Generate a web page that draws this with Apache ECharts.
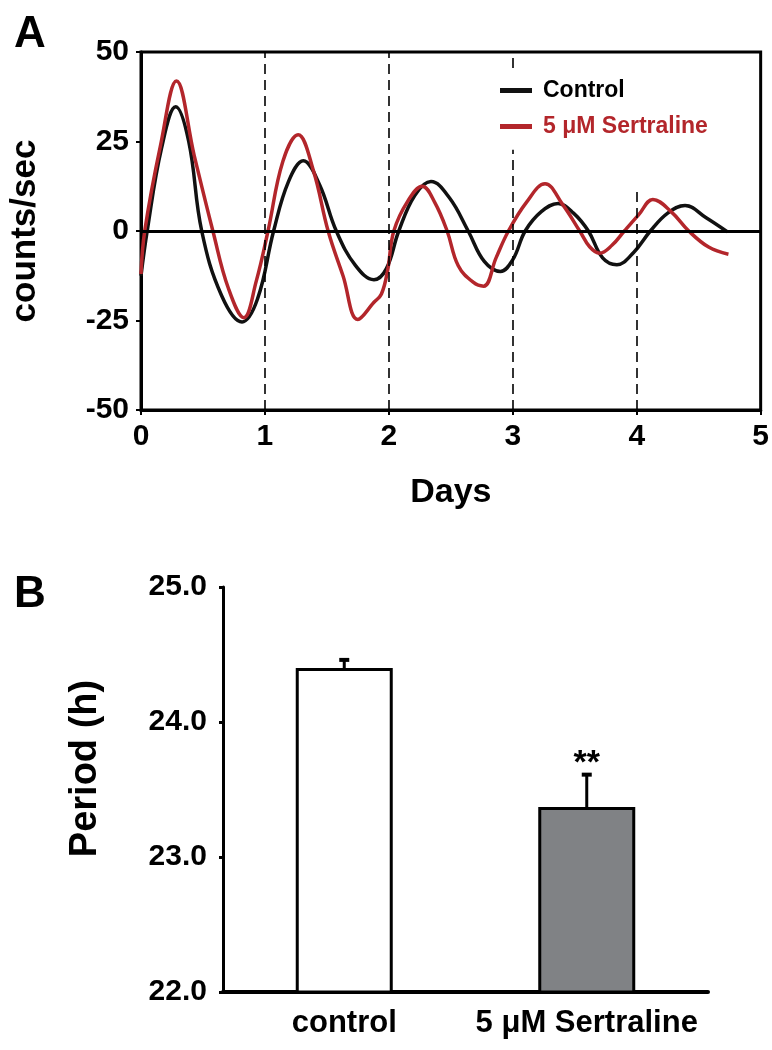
<!DOCTYPE html>
<html>
<head>
<meta charset="utf-8">
<script src="https://cdn.jsdelivr.net/npm/echarts@6/dist/echarts.min.js"></script>
<style>
html,body{margin:0;padding:0;background:#fff;}
#chart{width:772px;height:1050px;}
</style>
</head>
<body>
<div id="chart"></div>
<script>
// ---------- Panel A data ----------
const controlDays = [0.00,0.05,0.165,0.28,0.385,0.49,0.65,0.815,0.94,1.07,1.19,1.31,1.44,1.576,1.73,1.88,1.98,2.08,2.21,2.34,2.49,2.64,2.77,2.90,3.00,3.10,3.23,3.365,3.49,3.61,3.725,3.84,3.975,4.11,4.25,4.39,4.56,4.73];
const controlValues = [-12.5,0,23,34.7,25,0,-18,-25.4,-19,0,13.8,19.6,13,0,-9.6,-13.6,-10.5,0,10,13.8,9.2,0,-8.5,-11.3,-8,0,5.4,7.7,5,0,-7.5,-9.4,-6,0,5,7.1,3.7,-0.2];
const sertDays = [0.00,0.03,0.158,0.286,0.43,0.58,0.705,0.83,0.93,1.025,1.145,1.268,1.39,1.51,1.63,1.75,1.88,1.94,1.99,2.04,2.155,2.27,2.37,2.47,2.56,2.68,2.765,2.865,2.965,3.11,3.26,3.40,3.54,3.62,3.70,3.80,3.90,4.015,4.13,4.275,4.42,4.58,4.74];
const sertValues = [-12,0,24,41.9,21,0,-16,-24.2,-14,0,19.5,26.9,17,0,-12.5,-24.7,-19.9,-17.6,-11,0,8.5,12.5,8,0,-9.7,-14.3,-15.4,-7.5,0,8,13.2,7.5,0,-4.4,-6.2,-4,0,4.5,8.8,5.5,0,-4.5,-6.5];
const seriesNames = ['Control','5 \u03bcM Sertraline'];
const xTicksA = [0,1,2,3,4,5];
const yTicksA = [-50,-25,0,25,50];
const dayLines = [1,2,3,4];
const dayLineTop = [50,50,22.7,11.5];

// ---------- Panel B data ----------
const categories = ['control','5 \u03bcM Sertraline'];
const periodMean = [24.40,23.37];
const periodSEM = [0.06,0.24];
const sigMarks = ['','**'];
const yTicksB = [22.0,23.0,24.0,25.0];

const RED = '#b3262b';
const FONT = '"Liberation Sans", Arial, Helvetica, sans-serif';

const chart = echarts.init(document.getElementById('chart'), null, {renderer:'canvas'});

const guideLines = [];
dayLines.forEach((d,i)=>{
  guideLines.push([{coord:[d,yTicksA[0]]},{coord:[d,dayLineTop[i]]}]);
});
guideLines.push([{coord:[3,45.5]},{coord:[3,50]}]);

const option = {
  animation:false,
  backgroundColor:'#fff',
  title:[
    {text:'A', left:9, top:8, textStyle:{fontFamily:FONT,fontWeight:'bold',fontSize:44,color:'#000'}},
    {text:'B', left:9, top:568, textStyle:{fontFamily:FONT,fontWeight:'bold',fontSize:44,color:'#000'}}
  ],
  legend:{
    data:[{name:seriesNames[0],textStyle:{color:'#000'}},{name:seriesNames[1],textStyle:{color:RED}}],
    orient:'vertical', left:495, top:74, itemWidth:32, itemHeight:5, itemGap:13,
    icon:'rect',
    textStyle:{fontFamily:FONT,fontWeight:'bold',fontSize:23,padding:[0,0,0,6]}
  },
  grid:[
    {left:135, top:52, width:627, height:358, show:true, borderColor:'#000', borderWidth:3, backgroundColor:'transparent'},
    {left:223, top:587, width:485, height:405}
  ],
  xAxis:[
    {gridIndex:0, type:'value', min:xTicksA[0], max:xTicksA[xTicksA.length-1], interval:1,
     name:'Days', nameLocation:'middle', nameGap:66,
     nameTextStyle:{fontFamily:FONT,fontWeight:'bold',fontSize:34,color:'#000'},
     axisLine:{show:true,onZero:false,lineStyle:{color:'#000',width:3}},
     axisTick:{show:true,length:5,lineStyle:{color:'#000',width:2}},
     axisLabel:{fontFamily:FONT,fontWeight:'bold',fontSize:30,color:'#000',margin:12},
     splitLine:{show:false}},
    {gridIndex:1, type:'category', data:categories,
     axisLine:{show:true,lineStyle:{color:'#000',width:4}},
     axisTick:{show:false},
     axisLabel:{interval:0,fontFamily:FONT,fontWeight:'bold',fontSize:31,color:'#000',margin:16}}
  ],
  yAxis:[
    {gridIndex:0, type:'value', min:yTicksA[0], max:yTicksA[yTicksA.length-1], interval:25,
     name:'counts/sec', nameLocation:'middle', nameGap:98, nameRotate:90,
     nameTextStyle:{fontFamily:FONT,fontWeight:'bold',fontSize:35,color:'#000'},
     axisLine:{show:true,lineStyle:{color:'#000',width:3}},
     axisTick:{show:true,length:5,lineStyle:{color:'#000',width:2}},
     axisLabel:{fontFamily:FONT,fontWeight:'bold',fontSize:30,color:'#000',margin:12},
     splitLine:{show:false}},
    {gridIndex:1, type:'value', min:yTicksB[0], max:yTicksB[yTicksB.length-1], interval:1,
     name:'Period (h)', nameLocation:'middle', nameGap:118, nameRotate:90,
     nameTextStyle:{fontFamily:FONT,fontWeight:'bold',fontSize:38,color:'#000',padding:[0,0,0,42]},
     axisLine:{show:true,lineStyle:{color:'#000',width:3}},
     axisTick:{show:true,length:4,lineStyle:{color:'#000',width:3}},
     axisLabel:{fontFamily:FONT,fontWeight:'bold',fontSize:30,color:'#000',margin:16,
       formatter:v=>v.toFixed(1)},
     splitLine:{show:false}}
  ],
  series:[
    {name:'guides', type:'line', xAxisIndex:0, yAxisIndex:0, data:[], silent:true,
     markLine:{silent:true, symbol:['none','none'], label:{show:false},
       lineStyle:{color:'#000',width:1.6,type:[10,6]},
       data:guideLines.concat([[{coord:[xTicksA[0],0],lineStyle:{type:'solid',width:3}},{coord:[xTicksA[xTicksA.length-1],0]}]])}},
    {name:seriesNames[0], type:'line', xAxisIndex:0, yAxisIndex:0,
     data:controlDays.map((d,i)=>[d,controlValues[i]]),
     showSymbol:false, symbol:'none', smooth:0.4,
     lineStyle:{color:'#111',width:3.5}, itemStyle:{color:'#111'}},
    {name:seriesNames[1], type:'line', xAxisIndex:0, yAxisIndex:0,
     data:sertDays.map((d,i)=>[d,sertValues[i]]),
     showSymbol:false, symbol:'none', smooth:0.4,
     lineStyle:{color:RED,width:3.5}, itemStyle:{color:RED}},
    {name:'period', type:'bar', xAxisIndex:1, yAxisIndex:1, barWidth:97,
     data:periodMean.map((v,i)=>({value:v,itemStyle:{color:i===0?'#ffffff':'#808285'}})),
     itemStyle:{borderColor:'#000',borderWidth:3}},
    {name:'sem', type:'custom', xAxisIndex:1, yAxisIndex:1,
     data:categories.map((c,i)=>[i,periodMean[i],periodSEM[i]]),
     renderItem:function(params,api){
       const i = api.value(0), m = api.value(1), e = api.value(2);
       const p0 = api.coord([i,m]);
       const p1 = api.coord([i,m+e]);
       const children = [
         {type:'line', shape:{x1:p0[0],y1:p0[1],x2:p1[0],y2:p1[1]}, style:{stroke:'#000',lineWidth:3}},
         {type:'line', shape:{x1:p1[0]-5,y1:p1[1],x2:p1[0]+5,y2:p1[1]}, style:{stroke:'#000',lineWidth:4}}
       ];
       const s = sigMarks[params.dataIndex];
       if (s) {
         children.push({type:'text', x:p1[0], y:p1[1]+6,
           style:{text:s, fill:'#000', font:'bold 34px '+FONT, textAlign:'center', textVerticalAlign:'bottom'}});
       }
       return {type:'group', children:children};
     }}
  ]
};
chart.setOption(option);
</script>
</body>
</html>
